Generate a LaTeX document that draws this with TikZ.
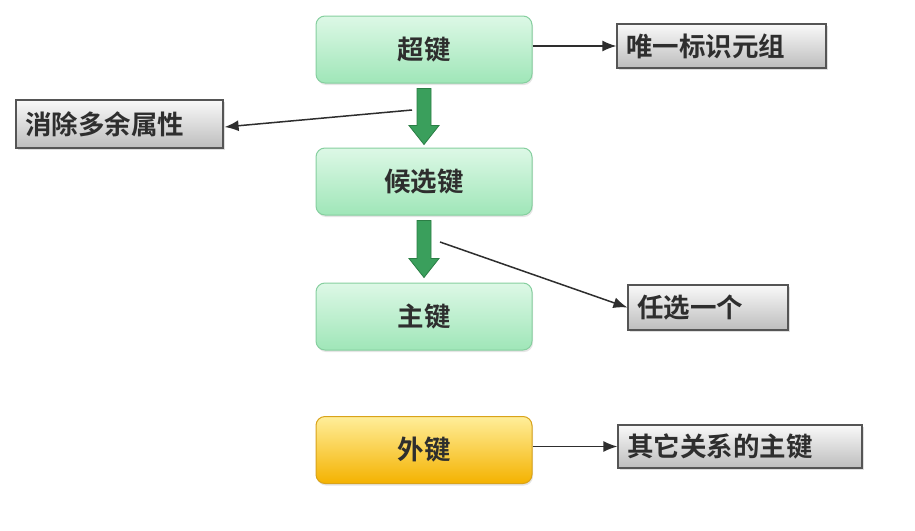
\documentclass[tikz,border=0pt]{standalone}
\usepackage{fontspec}
\setmainfont{Noto Sans CJK SC}[BoldFont=* Bold]
\usetikzlibrary{shadows,calc,arrows.meta}
\definecolor{gtop}{HTML}{DDF8E6}
\definecolor{gbot}{HTML}{9FE6B8}
\definecolor{gline}{HTML}{86CF9F}
\definecolor{ytop}{HTML}{FFEE9A}
\definecolor{ybot}{HTML}{F4B200}
\definecolor{yline}{HTML}{D9A31A}
\definecolor{ntop}{HTML}{F9F9F9}
\definecolor{nbot}{HTML}{BDBDBD}
\definecolor{nline}{HTML}{555555}
\definecolor{fatg}{HTML}{3A9F5C}
\definecolor{fatl}{HTML}{2B7E45}
\definecolor{txt}{HTML}{2E2E2E}
\begin{document}
\begin{tikzpicture}[x=1pt,y=-1pt,
  keybox/.style={draw=gline, line width=1pt, rounded corners=9pt,
    minimum width=216pt, minimum height=67pt, top color=gtop, bottom color=gbot,
    drop shadow={opacity=0.2, shadow xshift=1pt, shadow yshift=-2pt},
    text=txt, font=\fontsize{26.5}{26.5}\selectfont\bfseries},
  fkbox/.style={keybox, draw=yline, top color=ytop, bottom color=ybot},
  notebox/.style={draw=nline, line width=1.2pt, top color=ntop, bottom color=nbot,
    drop shadow={opacity=0.25, shadow xshift=1.5pt, shadow yshift=-2pt},
    text=txt, font=\fontsize{26.5}{26.5}\selectfont\bfseries,
    align=left, inner xsep=9pt, inner ysep=0pt},
  link/.style={draw=txt, line width=1.5pt, -{Latex[length=14pt,width=11pt]}},
  fatarrow/.style={fill=fatg, draw=fatl, line width=0.8pt, line join=miter}
]
\useasboundingbox (0,0) rectangle (915,530);
\fill[white] (0,0) rectangle (915,530);

\node[keybox] (sup) at (424,49.5) {超键};
\node[keybox] (cand) at (424,181.5) {候选键};
\node[keybox] (pk) at (424,316.5) {主键};
\node[fkbox] (fk) at (424,450) {外键};

\node[notebox, minimum height=44pt, text width=191pt] (n1) at (721.5,46) {唯一标识元组};
\node[notebox, minimum height=48pt, text width=189pt] (n2) at (119.5,124) {消除多余属性};
\node[notebox, minimum height=45pt, text width=142pt] (n3) at (708,307.5) {任选一个};
\node[notebox, minimum height=43pt, text width=226pt] (n4) at (740,446.5) {其它关系的主键};

% fat arrows
\coordinate (a1s) at ($(sup.south)+(0,5)$);
\coordinate (a1t) at ($(cand.north)+(0,-3)$);
\draw[fatarrow] ($(a1s)+(-7,0)$) -- ($(a1s)+(7,0)$) -- ($(a1t)+(7,-19)$) -- ($(a1t)+(15,-19)$)
  -- (a1t) -- ($(a1t)+(-15,-19)$) -- ($(a1t)+(-7,-19)$) -- cycle;
\coordinate (a2s) at ($(cand.south)+(0,5)$);
\coordinate (a2t) at ($(pk.north)+(0,-5)$);
\draw[fatarrow] ($(a2s)+(-7,0)$) -- ($(a2s)+(7,0)$) -- ($(a2t)+(7,-19)$) -- ($(a2t)+(15,-19)$)
  -- (a2t) -- ($(a2t)+(-15,-19)$) -- ($(a2t)+(-7,-19)$) -- cycle;

% thin connectors
\coordinate (c1) at (412,110);
\coordinate (c2) at (440,242);
\draw[link] (sup.east |- n1.west) -- (n1.west);
\draw[link] (c1) -- ($(n2.east)+(1,3)$);
\draw[link] (c2) -- (n3.west);
\draw[link] (fk.east |- n4.west) -- (n4.west);
\end{tikzpicture}
\end{document}
